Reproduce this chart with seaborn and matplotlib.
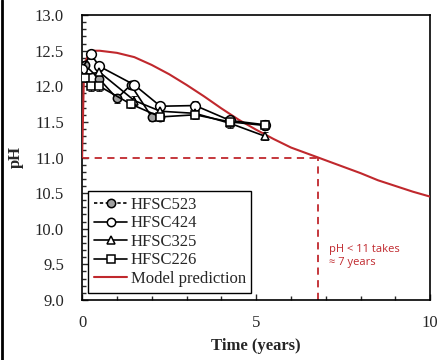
import numpy as np
import pandas as pd
import matplotlib
matplotlib.use("Agg")
import matplotlib.pyplot as plt
from matplotlib.lines import Line2D
from matplotlib.ticker import MultipleLocator
import seaborn as sns

# ---- data ----
t_523 = [0.0, 0.08, 0.5, 1.0, 1.4, 2.0, 2.25]
ph_523 = [12.2, 12.3, 12.1, 11.83, 12.02, 11.57, 11.57]

t_424 = [0.0, 0.25, 0.5, 1.5, 2.25, 3.25, 4.25, 5.25]
ph_424 = [12.25, 12.45, 12.28, 12.02, 11.72, 11.73, 11.52, 11.46]

t_325 = [0.0, 0.5, 1.5, 2.25, 3.25, 4.25, 5.25]
ph_325 = [12.15, 12.2, 11.8, 11.65, 11.62, 11.48, 11.3]

t_226 = [0.08, 0.25, 0.5, 1.4, 2.25, 3.25, 4.25, 5.25]
ph_226 = [12.12, 12.0, 12.0, 11.75, 11.57, 11.6, 11.5, 11.45]

err = 0.06

t_model = [0.0, 0.05, 0.1, 0.2, 0.3, 0.5, 1.0, 1.5, 2.0, 2.5, 3.0, 3.5, 4.0,
           4.5, 5.0, 5.5, 6.0, 6.5, 6.78, 7.0, 7.5, 8.0, 8.5, 9.0, 9.5, 10.0]
ph_model = [11.0, 12.1, 12.35, 12.47, 12.5, 12.5, 12.47, 12.41, 12.3, 12.17,
            12.02, 11.86, 11.69, 11.53, 11.39, 11.26, 11.14, 11.05, 11.0, 10.96,
            10.87, 10.78, 10.68, 10.6, 10.52, 10.45]

threshold_t = 6.78
threshold_ph = 11.0

series_names = ["HFSC523", "HFSC424", "HFSC325", "HFSC226"]
series_t = [t_523, t_424, t_325, t_226]
series_ph = [ph_523, ph_424, ph_325, ph_226]
series_marker = ["o", "o", "^", "s"]
series_face = ["#a0a0a0", "white", "white", "white"]
series_ms = [6, 7, 6, 6]

red = "#c0282d"

sns.set_style("ticks")
plt.rcParams["font.family"] = ["Liberation Serif", "DejaVu Serif"]

fig = plt.figure(figsize=(4.39, 3.6), dpi=100)
ax = fig.add_axes([0.187, 0.167, 0.793, 0.791])

# model prediction
mdf = pd.DataFrame({"t": t_model, "pH": ph_model})
sns.lineplot(data=mdf, x="t", y="pH", ax=ax, color=red, lw=1.5, sort=False,
             estimator=None, zorder=4)

# threshold lines
ax.plot([0, threshold_t], [threshold_ph, threshold_ph], ls=(0, (4, 3)), color=red, lw=1.3)
ax.plot([threshold_t, threshold_t], [9.0, threshold_ph], ls=(0, (4, 3)), color=red, lw=1.3)

handles = []
for name, tt, pp, mk, fc, ms in zip(series_names, series_t, series_ph,
                                     series_marker, series_face, series_ms):
    df = pd.DataFrame({"t": tt, "pH": pp})
    ax.errorbar(tt, pp, yerr=err, fmt="none", ecolor="black", elinewidth=0.6,
                capsize=2, capthick=0.6, zorder=3)
    sns.lineplot(data=df, x="t", y="pH", ax=ax, color="black", lw=1.2,
                 marker=mk, markersize=ms, markerfacecolor=fc,
                 markeredgecolor="black", markeredgewidth=1.1,
                 estimator=None, sort=False, zorder=5)
    handles.append(Line2D([], [], color="black", lw=1.2, marker=mk, markersize=6,
                          markerfacecolor=fc, markeredgecolor="black",
                          markeredgewidth=1.1,
                          ls=(0, (2, 1.5)) if name == "HFSC523" else "-",
                          label=name))
handles.append(Line2D([], [], color=red, lw=1.5, label="Model prediction"))

ax.set_xlim(0, 10)
ax.set_ylim(9.0, 13.0)
ax.xaxis.set_major_locator(MultipleLocator(5))
ax.xaxis.set_minor_locator(MultipleLocator(1))
ax.yaxis.set_major_locator(MultipleLocator(0.5))
ax.yaxis.set_minor_locator(MultipleLocator(0.1))
ax.set_yticklabels([f"{v:.1f}" for v in ax.get_yticks()])
ax.tick_params(axis="both", which="both", direction="in", top=False, right=False,
               labelsize=12)
ax.tick_params(axis="x", which="major", length=4, width=1, pad=11)
ax.tick_params(axis="y", which="major", length=4, width=1, pad=13)
ax.tick_params(axis="both", which="minor", length=3, width=1)
for s in ax.spines.values():
    s.set_visible(True)
    s.set_linewidth(1.2)
    s.set_color("black")

ax.set_xlabel("Time (years)", fontsize=12, fontweight="bold", labelpad=5)
ax.set_ylabel("pH", fontsize=12, fontweight="bold", labelpad=8)

ax.text(7.1, 9.62, "pH < 11 takes\n\u2248 7 years", color=red, fontsize=8,
        family=["Open Sans", "DejaVu Sans"], va="center", ha="left", linespacing=1.3)

leg = ax.legend(handles=handles, loc="lower left", bbox_to_anchor=(0.017, 0.025),
                borderaxespad=0, frameon=True, fancybox=False, fontsize=12,
                handlelength=2.0, handletextpad=0.2, labelspacing=0.15,
                borderpad=0.35)
leg.get_frame().set_edgecolor("black")
leg.get_frame().set_linewidth(1.0)
leg.get_frame().set_alpha(1)

fig.add_artist(Line2D([0.004, 0.004], [0, 1], transform=fig.transFigure,
                      color="black", lw=2))

fig.savefig("out.png", dpi=100)
